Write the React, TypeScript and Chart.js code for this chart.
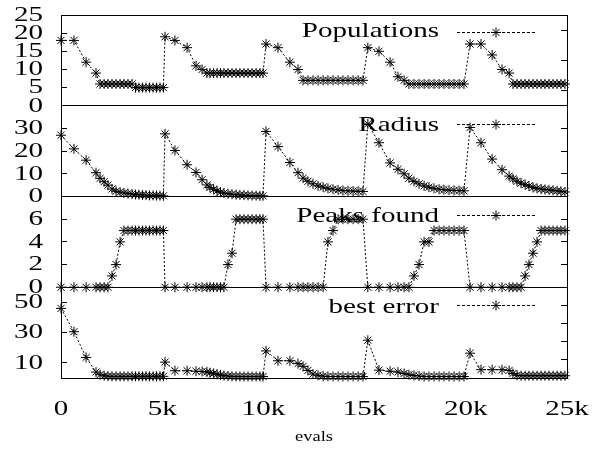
import React, { useEffect, useRef } from 'react';
import { Chart, registerables } from 'chart.js';

Chart.register(...registerables);

// ---------------- data ----------------
const evals = [
  0, 640, 1240, 1730, 1930, 2130, 2320, 2520, 2720, 2920, 3110, 3310, 3510, 3680, 3850, 4030, 4200, 4370, 4550, 4720, 4890, 5060,
  5140, 5630, 6230, 6670, 6970, 7210, 7360, 7540, 7710, 7880, 8050, 8250, 8450, 8650, 8840, 9040, 9240, 9440, 9640, 9830, 9980,
  10130, 10720, 11310, 11710, 11960, 12200, 12450, 12700, 12950, 13190, 13440, 13690, 13930, 14180, 14430, 14680, 14920,
  15160, 15710, 16260, 16650, 16950, 17190, 17440, 17690, 17940, 18180, 18430, 18680, 18920, 19170, 19420, 19670, 19910,
  20210, 20750, 21300, 21790, 22140, 22330, 22530, 22730, 22930, 23120, 23320, 23520, 23720, 23910, 24110, 24310, 24510, 24700, 24900,
];

const populations = [
  18, 18, 12, 9, 6, 6, 6, 6, 6, 6, 6, 6, 6, 5, 5, 5, 5, 5, 5, 5, 5, 5,
  19, 18, 16, 11, 10, 9, 9, 9, 9, 9, 9, 9, 9, 9, 9, 9, 9, 9, 9, 9, 9,
  17, 16, 12, 10, 7, 7, 7, 7, 7, 7, 7, 7, 7, 7, 7, 7, 7,
  16, 15, 12, 8, 7, 6, 6, 6, 6, 6, 6, 6, 6, 6, 6, 6, 6,
  17, 17, 14, 10, 9, 6, 6, 6, 6, 6, 6, 6, 6, 6, 6, 6, 6, 6, 6,
];

const radius = [
  27, 21, 16, 10.5, 8, 6.5, 5, 3.3, 2.3, 1.9, 1.6, 1.3, 1.1, 0.9, 0.8, 0.7, 0.6, 0.5, 0.5, 0.4, 0.4, 0.3,
  27.6, 20.3, 14, 10.6, 7.4, 5.1, 4, 3.2, 2.5, 1.9, 1.5, 1.2, 1, 0.8, 0.7, 0.6, 0.5, 0.4, 0.4, 0.3, 0.3,
  28.7, 22, 15, 10.5, 8.1, 6.7, 5.6, 4.7, 4.1, 3.6, 3.2, 2.9, 2.6, 2.5, 2.4, 2.3, 2.2,
  32, 23.7, 14.8, 12, 10, 8.1, 6.7, 5.6, 4.7, 4.1, 3.6, 3.2, 3, 2.8, 2.7, 2.6, 2.5,
  30.4, 23.7, 16.5, 11.8, 9, 7.8, 6.7, 5.9, 5.2, 4.6, 4, 3.6, 3.3, 3.1, 2.9, 2.7, 2.5, 2.3, 2,
];

const peaksFound = [
  0, 0, 0, 0, 0, 0, 0, 1, 2, 4, 5, 5, 5, 5, 5, 5, 5, 5, 5, 5, 5, 5,
  0, 0, 0, 0, 0, 0, 0, 0, 0, 0, 0, 2, 3, 6, 6, 6, 6, 6, 6, 6, 6,
  0, 0, 0, 0, 0, 0, 0, 0, 0, 4, 5, 6, 6, 6, 6, 6, 6,
  0, 0, 0, 0, 0, 0, 1, 2, 4, 4, 5, 5, 5, 5, 5, 5, 5,
  0, 0, 0, 0, 0, 0, 0, 0, 1, 2, 3, 4, 5, 5, 5, 5, 5, 5, 5,
];

const bestError = [
  46, 30.6, 13.6, 3.9, 2.2, 1.5, 1.2, 1.1, 1.1, 1.1, 1.1, 1.1, 1.1, 1.1, 1.1, 1.1, 1.1, 1.1, 1.1, 1.1, 1.1, 1.1,
  10.5, 4.8, 4.8, 4.5, 4.3, 4, 3.5, 3, 2.5, 2, 1.6, 1.3, 1.1, 1, 1, 1, 1, 1, 1, 1, 1,
  17.9, 11.4, 11.4, 9.5, 7.7, 5, 2.6, 1.8, 1.2, 1, 1, 1, 1, 1, 1, 1, 1,
  25, 5.2, 4.5, 3.9, 3, 2.2, 1.7, 1.3, 1, 1, 1, 1, 1, 1, 1, 1, 1,
  16.4, 5.5, 5.5, 5.5, 5, 3, 1.8, 1.5, 1.5, 1.5, 1.5, 1.5, 1.5, 1.5, 1.5, 1.5, 1.5, 1.5, 1.5,
];

const xTickValues = [0, 5000, 10000, 15000, 20000, 25000];
const xTickLabels = ['0', '5k', '10k', '15k', '20k', '25k'];
const popTicks = [0, 5, 10, 15, 20, 25];
const radiusTicks = [0, 10, 20, 30];
const peaksTicks = [0, 2, 4, 6];
const errorTicks = [10, 30, 50];
const seriesNames = ['Populations', 'Radius', 'Peaks found', 'best error'];
const xTitle = 'evals';

// ---------------- layout / style ----------------
const W = 595;
const H = 454;
const LEFT = 61;
const RIGHT_W = 28;
const TOP = 15;
const BOTTOM_H = 76;
const FONT = '"Liberation Serif", "Times New Roman", serif';
const HS = 1.32; // horizontal stretch of text

const panels = [
  { id: 'yPop', rid: 'rPop', min: 0, max: 25, ticks: popTicks, lines: [0, 25], data: populations, name: seriesNames[0], base: 22, lineY: 17 },
  { id: 'yRad', rid: 'rRad', min: 0, max: 40, ticks: radiusTicks, lines: [0], data: radius, name: seriesNames[1], base: 25, lineY: 18 },
  { id: 'yPk', rid: 'rPk', min: 0, max: 8, ticks: peaksTicks, lines: [0], data: peaksFound, name: seriesNames[2], base: 25, lineY: 18 },
  { id: 'yErr', rid: 'rErr', min: 0, max: 60, ticks: errorTicks, lines: [], data: bestError, name: seriesNames[3], base: 26, lineY: 18 },
];

function drawStretched(ctx: CanvasRenderingContext2D, text: string, x: number, y: number, align: CanvasTextAlign, baseline: CanvasTextBaseline, font: string) {
  ctx.save();
  ctx.translate(x, y);
  ctx.scale(HS, 1);
  ctx.font = font;
  ctx.textAlign = align;
  ctx.textBaseline = baseline;
  ctx.fillStyle = '#000';
  ctx.fillText(text, 0, 0);
  ctx.restore();
}

function drawStar(ctx: CanvasRenderingContext2D, x: number, y: number, r: number) {
  const d = r * Math.SQRT1_2;
  ctx.beginPath();
  ctx.moveTo(x - r, y); ctx.lineTo(x + r, y);
  ctx.moveTo(x, y - r); ctx.lineTo(x, y + r);
  ctx.moveTo(x - d, y - d); ctx.lineTo(x + d, y + d);
  ctx.moveTo(x - d, y + d); ctx.lineTo(x + d, y - d);
  ctx.stroke();
}

const textPlugin = {
  id: 'gnuplotText',
  afterDatasetsDraw(chart: any) {
    const ctx = chart.ctx as CanvasRenderingContext2D;
    const big = `22px ${FONT}`;
    panels.forEach((p) => {
      const s = chart.scales[p.id];
      p.ticks.forEach((v) => {
        drawStretched(ctx, String(v), 43, s.getPixelForValue(v), 'right', 'middle', big);
      });
      // key
      const baseY = s.top + p.base;
      drawStretched(ctx, p.name, 439, baseY, 'right', 'alphabetic', big);
      const ly = Math.round(s.top + p.lineY) + 0.5;
      ctx.save();
      ctx.strokeStyle = '#000';
      ctx.lineWidth = 1;
      ctx.setLineDash([3, 2]);
      ctx.beginPath();
      ctx.moveTo(457, ly);
      ctx.lineTo(535, ly);
      ctx.stroke();
      ctx.setLineDash([]);
      drawStar(ctx, 496, ly, 5);
      ctx.restore();
    });
    const xs = chart.scales.x;
    xTickValues.forEach((v, i) => {
      drawStretched(ctx, xTickLabels[i], xs.getPixelForValue(v), 409, 'center', 'middle', big);
    });
    drawStretched(ctx, xTitle, (chart.chartArea.left + chart.chartArea.right) / 2, 437, 'center', 'middle', `14px ${FONT}`);
  },
};

function leftAxis(p: any) {
  return {
    type: 'linear',
    position: 'left',
    stack: 'left',
    stackWeight: 1,
    min: p.min,
    max: p.max,
    afterBuildTicks: (s: any) => { s.ticks = p.ticks.map((v: number) => ({ value: v })); },
    afterFit: (s: any) => { s.width = LEFT; },
    ticks: { display: false },
    grid: {
      drawOnChartArea: true,
      color: (c: any) => (c.tick && p.lines.includes(c.tick.value) ? '#000' : 'rgba(0,0,0,0)'),
      tickColor: '#000',
      tickLength: -6,
      lineWidth: 1,
    },
    border: { display: true, color: '#000', width: 1 },
  };
}

function rightAxis(p: any) {
  return {
    type: 'linear',
    position: 'right',
    stack: 'right',
    stackWeight: 1,
    min: p.min,
    max: p.max,
    afterBuildTicks: (s: any) => { s.ticks = p.ticks.map((v: number) => ({ value: v })); },
    afterFit: (s: any) => { s.width = RIGHT_W; },
    ticks: { display: false },
    grid: { drawOnChartArea: false, tickColor: '#000', tickLength: -6, lineWidth: 1 },
    border: { display: true, color: '#000', width: 1 },
  };
}

export default function App() {
  const ref = useRef<HTMLCanvasElement | null>(null);

  useEffect(() => {
    if (!ref.current) return;
    const scales: any = {
      x: {
        type: 'linear',
        position: 'bottom',
        min: 0,
        max: 25000,
        afterBuildTicks: (s: any) => { s.ticks = xTickValues.map((v) => ({ value: v })); },
        afterFit: (s: any) => { s.height = BOTTOM_H; },
        ticks: { display: false },
        grid: { drawOnChartArea: false, tickColor: '#000', tickLength: -6, lineWidth: 1 },
        border: { display: true, color: '#000', width: 1 },
      },
    };
    // last-defined stacked left axis is placed on top, so add in reverse order
    [...panels].reverse().forEach((p) => {
      scales[p.id] = leftAxis(p);
    });
    [...panels].reverse().forEach((p) => {
      scales[p.rid] = rightAxis(p);
    });

    const datasets = panels.map((p) => ({
      label: p.name,
      data: evals.map((x, i) => ({ x, y: p.data[i] })),
      xAxisID: 'x',
      yAxisID: p.id,
      borderColor: '#000',
      borderWidth: 1,
      borderDash: [2, 2],
      pointStyle: 'star',
      pointRadius: 5,
      pointBorderColor: '#000',
      pointBackgroundColor: '#000',
      pointBorderWidth: 1,
      tension: 0,
      clip: false,
      fill: false,
    }));

    const chart = new Chart(ref.current, {
      type: 'line',
      data: { datasets } as any,
      options: {
        responsive: false,
        animation: false,
        devicePixelRatio: 1,
        layout: { padding: { top: TOP, left: 0, right: 0, bottom: 0 } },
        plugins: { legend: { display: false }, tooltip: { enabled: false }, title: { display: false } },
        scales,
      } as any,
      plugins: [textPlugin],
    });
    return () => chart.destroy();
  }, []);

  return (
    <div style={{ position: 'absolute', left: 0, top: 0, width: W, height: H, background: '#fff' }}>
      <canvas ref={ref} width={W} height={H} style={{ display: 'block' }} />
    </div>
  );
}
